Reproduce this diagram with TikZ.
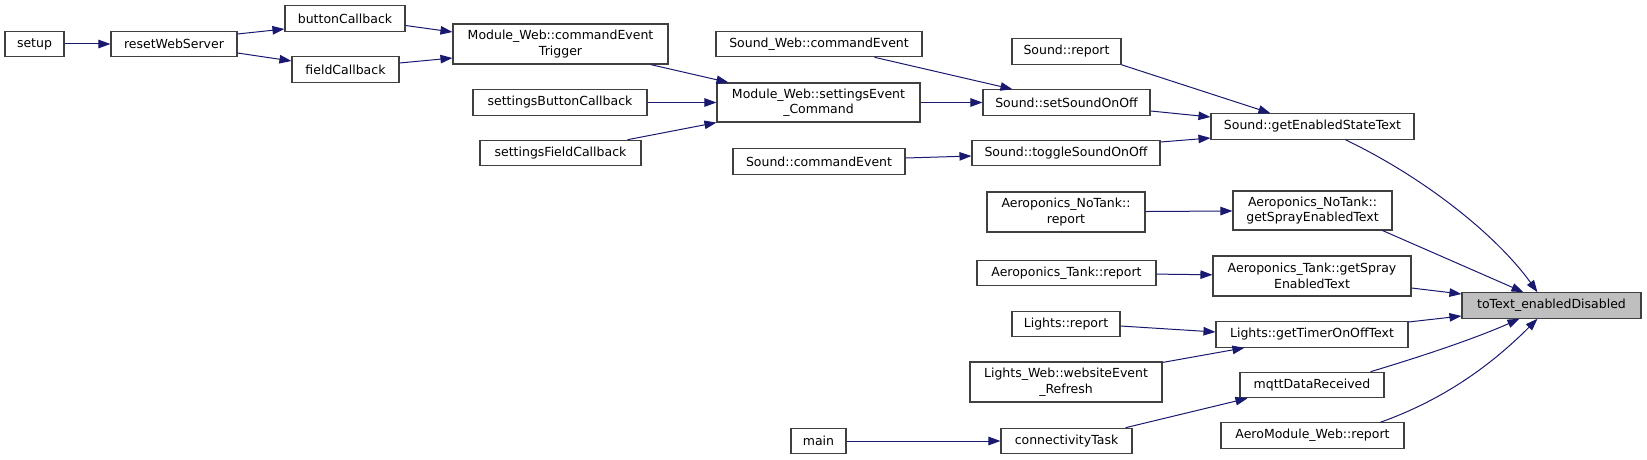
\documentclass[tikz,border=0pt]{standalone}
\usepackage{fontspec}
\setmainfont{DejaVu Sans}
\usepackage{xcolor}
\usetikzlibrary{arrows.meta}
\definecolor{edge}{HTML}{191970}
\definecolor{frame}{HTML}{404040}
\definecolor{focus}{HTML}{BFBFBF}

\begin{document}
\begin{tikzpicture}[
  x=1pt, y=-1pt,
  box/.style={draw=frame, fill=white, line width=1.1pt, inner sep=0pt, minimum height=25.5pt, align=center, font=\fontsize{12.5}{15.5}\selectfont},
  tall/.style={box, minimum height=40pt},
  target/.style={box, fill=focus},
  arrow/.style={-{Triangle[length=12pt, width=8.5pt]}, line width=1pt, draw=edge}
]
\useasboundingbox (0,0) rectangle (1647,460);
% callers, left to right
\node[box, minimum width=59pt] (setup) at (34.5,44) {setup};
\node[box, minimum width=126pt] (reset) at (174,44) {resetWebServer};
\node[box, minimum width=120pt] (btnCb) at (345,18.5) {buttonCallback};
\node[box, minimum width=107pt] (fieldCb) at (345.5,69.5) {fieldCallback};
\node[tall, minimum width=215pt] (cmdTrigger) at (560.5,44) {Module\_Web::commandEvent\\Trigger};
\node[box, minimum width=174pt] (settingsBtn) at (560,102.5) {settingsButtonCallback};
\node[box, minimum width=161pt] (settingsField) at (560.5,153) {settingsFieldCallback};
\node[box, minimum width=206pt] (soundWebCmd) at (819,44) {Sound\_Web::commandEvent};
\node[tall, minimum width=203pt, minimum height=39pt] (settingsCmd) at (818.5,102.5) {Module\_Web::settingsEvent\\\_Command};
\node[box, minimum width=172pt] (soundCmd) at (819,161.5) {Sound::commandEvent};
\node[box, minimum width=55pt] (mainNode) at (818.5,441) {main};
\node[box, minimum width=109pt] (soundReport) at (1066.5,51.5) {Sound::report};
\node[box, minimum width=167pt] (setSound) at (1066.5,102.5) {Sound::setSoundOnOff};
\node[box, minimum width=188pt] (toggleSound) at (1066,153) {Sound::toggleSoundOnOff};
\node[tall, minimum width=158pt] (noTankReport) at (1066,212) {Aeroponics\_NoTank::\\report};
\node[box, minimum width=179pt] (tankReport) at (1066.5,273) {Aeroponics\_Tank::report};
\node[box, minimum width=108pt] (lightsReport) at (1066,324) {Lights::report};
\node[tall, minimum width=192pt] (lightsWeb) at (1066,382) {Lights\_Web::websiteEvent\\\_Refresh};
\node[box, minimum width=131pt] (connTask) at (1066.5,441) {connectivityTask};
\node[box, minimum width=203pt] (enabledState) at (1312.5,126.5) {Sound::getEnabledStateText};
\node[tall, minimum width=159pt, minimum height=39pt] (noTankSpray) at (1312.5,210.5) {Aeroponics\_NoTank::\\getSprayEnabledText};
\node[tall, minimum width=198pt] (tankSpray) at (1312,276) {Aeroponics\_Tank::getSpray\\EnabledText};
\node[box, minimum width=192pt] (timerText) at (1312,334.5) {Lights::getTimerOnOffText};
\node[box, minimum width=144pt] (mqtt) at (1312,385) {mqttDataReceived};
\node[box, minimum width=183pt] (aeroWeb) at (1312.5,435.5) {AeroModule\_Web::report};
\node[target, minimum width=179pt] (toText) at (1551.5,305.5) {toText\_enabledDisabled};
% calls
\draw[arrow] (setup) -- (reset);
\draw[arrow] ([yshift=10pt]reset.east) -- ([yshift=-10.5pt]btnCb.west);
\draw[arrow] ([yshift=-9pt]reset.east) -- ([yshift=8.5pt]fieldCb.west);
\draw[arrow] ([yshift=-7pt]btnCb.east) -- ([yshift=12pt]cmdTrigger.west);
\draw[arrow] ([yshift=6.5pt]fieldCb.east) -- ([yshift=-14pt]cmdTrigger.west);
\draw[arrow] ([xshift=-18pt]cmdTrigger.south east) -- ([xshift=12pt]settingsCmd.north west);
\draw[arrow] (settingsBtn) -- (settingsCmd);
\draw[arrow] ([xshift=-14pt]settingsField.north east) -- (settingsCmd.south west);
\draw[arrow] ([xshift=-48pt]soundWebCmd.south east) -- ([xshift=30pt]setSound.north west);
\draw[arrow] (settingsCmd) -- (setSound);
\draw[arrow] ([yshift=3.5pt]soundCmd.east) -- ([yshift=-3pt]toggleSound.west);
\draw[arrow] (soundReport.south east) -- ([xshift=60pt]enabledState.north west);
\draw[arrow] ([yshift=-8.5pt]setSound.east) -- ([yshift=9.5pt]enabledState.west);
\draw[arrow] ([yshift=11pt]toggleSound.east) -- ([yshift=-11.5pt]enabledState.west);
\draw[arrow] ([xshift=-69pt]enabledState.south east) .. controls +(85,41) and +(-38,-53) .. ([xshift=76pt]toText.north west);
\draw[arrow] (noTankReport) -- (noTankSpray);
\draw[arrow] (tankReport) -- (tankSpray);
\draw[arrow] ([xshift=-10pt]noTankSpray.south east) -- ([xshift=62pt]toText.north west);
\draw[arrow] ([yshift=-12pt]tankSpray.east) -- ([yshift=11.5pt]toText.west);
\draw[arrow] ([yshift=-2pt]lightsReport.east) -- ([yshift=2.5pt]timerText.west);
\draw[arrow] ([yshift=-1pt]lightsWeb.north east) -- ([xshift=29pt]timerText.south west);
\draw[arrow] ([yshift=12.5pt]timerText.east) -- ([yshift=-10.5pt]toText.west);
\draw[arrow] ([xshift=-14pt]mqtt.north east) .. controls +(50,-15) and +(-45,20) .. ([xshift=58pt]toText.south west);
\draw[arrow] ([xshift=-24pt]aeroWeb.north east) .. controls +(70,-25) and +(-40,40) .. ([xshift=76pt]toText.south west);
\draw[arrow] (mainNode) -- (connTask);
\draw[arrow] ([xshift=-7pt]connTask.north east) -- ([xshift=8pt]mqtt.south west);
\end{tikzpicture}
\end{document}
